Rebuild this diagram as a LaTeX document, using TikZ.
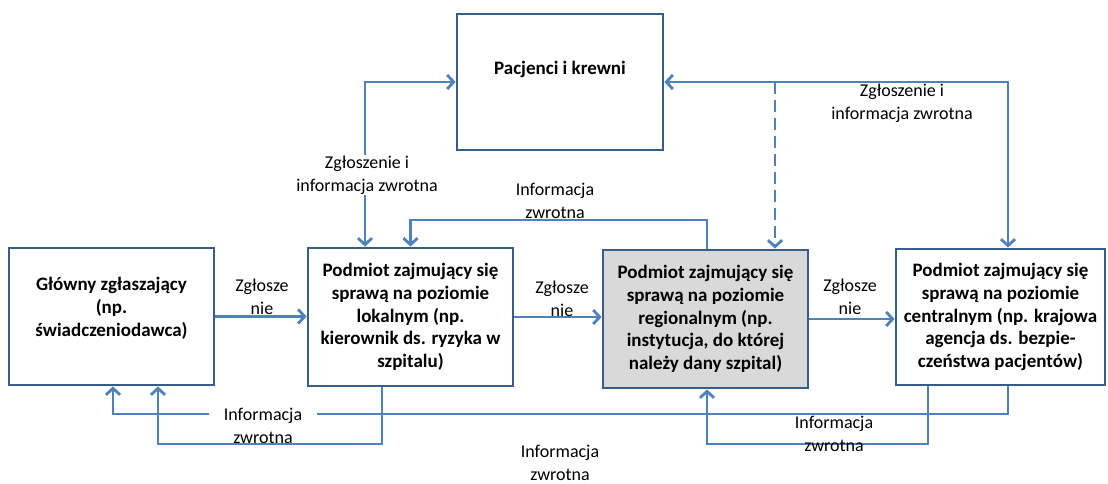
\documentclass[tikz,border=0pt]{standalone}
\usepackage{fontspec}
\setmainfont{Carlito}
\usetikzlibrary{arrows.meta}
\definecolor{connc}{HTML}{4F81BD}
\definecolor{bordc}{HTML}{385D8A}
\definecolor{grayfill}{HTML}{D9D9D9}
\begin{document}
\begin{tikzpicture}[x=1pt,y=-1pt,
  box/.style={draw=bordc, line width=2.8pt, minimum width=205pt, minimum height=137pt,
    inner sep=0pt, align=center, font=\fontsize{19}{22.8}\selectfont\bfseries},
  conn/.style={draw=connc, line width=2.8pt},
  arr/.style={conn, -{Straight Barb[length=6.5pt,width=14pt]}},
  both/.style={conn, {Straight Barb[length=6.5pt,width=14pt]}-{Straight Barb[length=6.5pt,width=14pt]}},
  lbl/.style={font=\fontsize{18}{23}\selectfont, align=center, inner sep=1pt},
]
\fill[white] (0,0) rectangle (1108,484);
\useasboundingbox (0,0) rectangle (1108,484);

% boxes
\node[box, minimum width=206pt, minimum height=136pt, text height=13pt, text depth=27pt] (top) at (560,82) {Pacjenci i krewni};
\node[box, text height=44pt, text depth=5pt] (b1) at (111.5,316.5) {Główny zgłaszający\\(np.\\świadczeniodawca)};
\node[box, minimum height=138pt] (b2) at (410.5,317) {Podmiot zajmujący się\\sprawą na poziomie\\lokalnym (np.\\kierownik ds. ryzyka w\\szpitalu)};
\node[box, minimum height=138pt, fill=grayfill] (b3) at (705.5,319) {Podmiot zajmujący się\\sprawą na poziomie\\regionalnym (np.\\instytucja, do której\\należy dany szpital)};
\node[box, minimum width=209pt, minimum height=136pt] (b4) at (1000.5,317) {Podmiot zajmujący się\\sprawą na poziomie\\centralnym (np. krajowa\\agencja ds. bezpie-\\czeństwa pacjentów)};

% horizontal reports
\draw[arr] (b1.east) -- (b1.east -| b2.west);
\draw[arr] (b2.east) -- (b2.east -| b3.west);
\draw[arr] (b3.east) -- (b3.east -| b4.west);

% patients links
\draw[both] (top.west) -| ([xshift=-45.5pt]b2.north);
\draw[both] (top.east) -| ([xshift=7.5pt]b4.north);
\coordinate (dj) at (775,82);
\draw[arr, dash pattern=on 12pt off 6pt] (dj) -- (dj |- b3.north);

% feedback regional -> local (top)
\coordinate (tm) at (0,220);
\draw[arr] ([xshift=1.5pt]b3.north) |- (tm -| b2.north) -- (b2.north);

% bottom feedback
\coordinate (y1) at (0,414);
\coordinate (y2) at (0,444);
\draw[arr] ([xshift=7.5pt]b4.south) |- ([xshift=1.5pt]b1.south |- y1) -- ([xshift=1.5pt]b1.south);
\node[lbl, fill=white, inner xsep=15pt] (lfb1) at (263,426) {Informacja\\zwrotna};
\draw[arr] ([xshift=-28.5pt]b2.south) |- ([xshift=46.5pt]b1.south |- y2) -- ([xshift=46.5pt]b1.south);
\draw[arr] ([xshift=-72.5pt]b4.south) |- ([xshift=1.5pt]b3.south |- y2) -- ([xshift=1.5pt]b3.south);

% labels
\node[lbl] (l12) at (262,297) {Zgłosze\\nie};
\node[lbl] (l23) at (562,299) {Zgłosze\\nie};
\node[lbl] (l34) at (850,297) {Zgłosze\\nie};
\node[lbl, fill=white] (lzl) at (367,175) {Zgłoszenie i\\informacja zwrotna};
\node[lbl] (lzr) at (902,103) {Zgłoszenie i\\informacja zwrotna};
\node[lbl] (lfbt) at (555,201) {Informacja\\zwrotna};
\node[lbl] (lfb3) at (834,434) {Informacja\\zwrotna};
\node[lbl] (lfbb) at (560,463) {Informacja\\zwrotna};
\end{tikzpicture}
\end{document}
